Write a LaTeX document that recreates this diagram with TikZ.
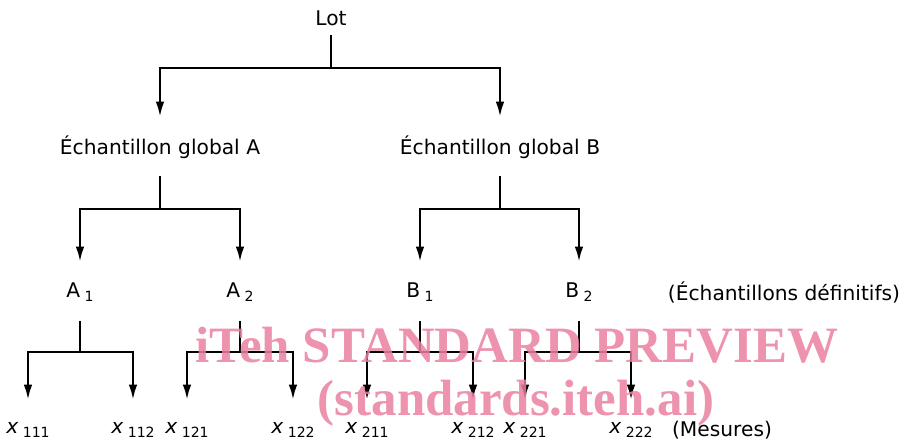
\documentclass[tikz,border=0pt]{standalone}
\usepackage{fontspec}
\setmainfont{DejaVu Sans}
\newfontfamily\wmfont{Liberation Serif}
\usepackage{tikz}
\usetikzlibrary{arrows.meta,positioning,calc}
\usepackage{xcolor}
\definecolor{wmpink}{RGB}{234,128,160}
\newcommand{\idx}[1]{\hspace{2.5pt}\raisebox{-2.5pt}{\fontsize{8}{10}\selectfont #1}}

\begin{document}
\begin{tikzpicture}[
    x=0.02cm, y=-0.02cm,
    sample/.style={inner sep=0pt, minimum height=1.16cm, font=\fontsize{11.5}{13}\selectfont},
    note/.style={inner sep=0pt, font=\fontsize{11.5}{13}\selectfont},
    link/.style={line width=1.6pt},
    arrow/.style={-{Latex[length=3.2mm,width=1.7mm]}, line width=1.6pt},
    stamp/.style={inner sep=0pt, text=wmpink, text opacity=0.85, font=\wmfont\bfseries\fontsize{29}{33}\selectfont}
]
\useasboundingbox (0,0) rectangle (906,441);

% Lot
\node[sample, minimum height=0.68cm] (lot) at (331,18) {Lot};

% Global samples
\node[sample] (echA) at (160,147) {Échantillon global A};
\node[sample] (echB) at (500,147) {Échantillon global B};

% Final samples
\node[sample] (a1) at (80,292) {A\idx{1}};
\node[sample] (a2) at (240,292) {A\idx{2}};
\node[sample] (b1) at (420,292) {B\idx{1}};
\node[sample] (b2) at (579,292) {B\idx{2}};
\node[note] (definitifs) at (784,292) {(Échantillons définitifs)};

% Measurements
\node[sample] (x111) at (28,430) {\textit{x}\idx{111}};
\node[sample] (x112) at (133,430) {\textit{x}\idx{112}};
\node[sample] (x121) at (187,430) {\textit{x}\idx{121}};
\node[sample] (x122) at (293,430) {\textit{x}\idx{122}};
\node[sample] (x211) at (367,430) {\textit{x}\idx{211}};
\node[sample] (x212) at (473,430) {\textit{x}\idx{212}};
\node[sample] (x221) at (525,430) {\textit{x}\idx{221}};
\node[sample] (x222) at (631,430) {\textit{x}\idx{222}};
\node[note] (mesures) at (722,430) {(Mesures)};

% Junctions
\coordinate (j0) at (331,68);
\coordinate (jA) at (160,209);
\coordinate (jB) at (500,209);
\coordinate (jA1) at (80,352);
\coordinate (jA2) at (240,352);
\coordinate (jB1) at (420,352);
\coordinate (jB2) at (579,352);

% Connections
\draw[link] (lot.south) -- (j0);
\draw[arrow] (j0) -| (echA.north);
\draw[arrow] (j0) -| (echB.north);

\draw[link] (echA.south) -- (jA);
\draw[arrow] (jA) -| (a1.north);
\draw[arrow] (jA) -| (a2.north);
\draw[link] (echB.south) -- (jB);
\draw[arrow] (jB) -| (b1.north);
\draw[arrow] (jB) -| (b2.north);

\draw[link] (a1.south) -- (jA1);
\draw[arrow] (jA1) -| (x111.north);
\draw[arrow] (jA1) -| (x112.north);
\draw[link] (a2.south) -- (jA2);
\draw[arrow] (jA2) -| (x121.north);
\draw[arrow] (jA2) -| (x122.north);
\draw[link] (b1.south) -- (jB1);
\draw[arrow] (jB1) -| (x211.north);
\draw[arrow] (jB1) -| (x212.north);
\draw[link] (b2.south) -- (jB2);
\draw[arrow] (jB2) -| (x221.north);
\draw[arrow] (jB2) -| (x222.north);

% Watermark
\node[stamp] (wm1) at (517,345) {iTeh STANDARD PREVIEW};
\node[stamp] (wm2) at (516,403) {(standards.iteh.ai)};

\end{tikzpicture}
\end{document}
